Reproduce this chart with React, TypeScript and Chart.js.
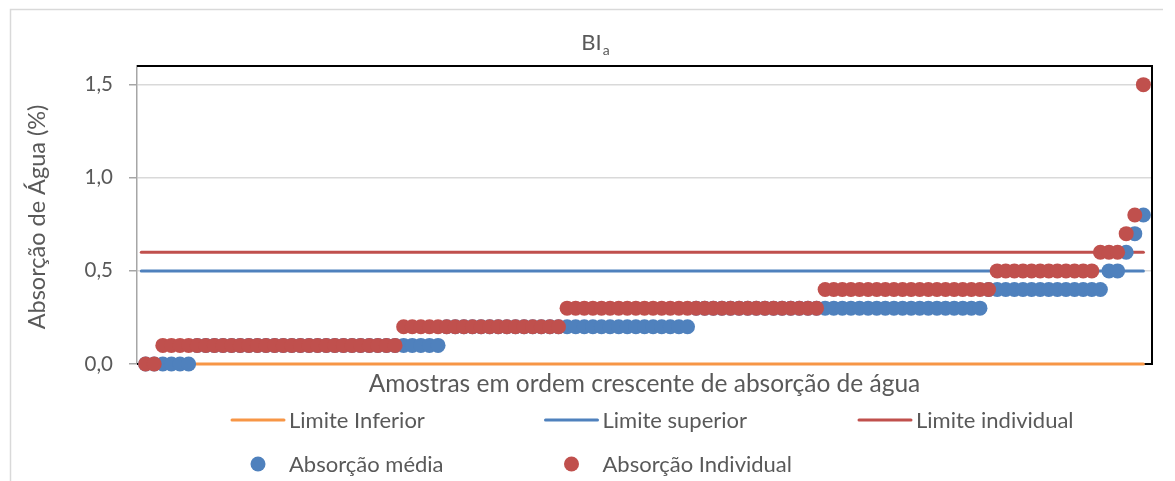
import React, { useEffect, useRef } from "react";
import { Chart, registerables } from "chart.js";

Chart.register(...registerables);

// ---- data ----
const absorcaoMedia = [
  0.0, 0.0, 0.0, 0.0, 0.0, 0.0,
  0.1, 0.1, 0.1, 0.1, 0.1, 0.1, 0.1, 0.1, 0.1, 0.1,
  0.1, 0.1, 0.1, 0.1, 0.1, 0.1, 0.1, 0.1, 0.1, 0.1,
  0.1, 0.1, 0.1, 0.1, 0.1, 0.1, 0.1, 0.1, 0.1,
  0.2, 0.2, 0.2, 0.2, 0.2, 0.2, 0.2, 0.2, 0.2, 0.2,
  0.2, 0.2, 0.2, 0.2, 0.2, 0.2, 0.2, 0.2, 0.2, 0.2,
  0.2, 0.2, 0.2, 0.2, 0.2, 0.2, 0.2, 0.2, 0.2,
  0.3, 0.3, 0.3, 0.3, 0.3, 0.3, 0.3, 0.3, 0.3, 0.3,
  0.3, 0.3, 0.3, 0.3, 0.3, 0.3, 0.3, 0.3, 0.3, 0.3,
  0.3, 0.3, 0.3, 0.3, 0.3, 0.3, 0.3, 0.3, 0.3, 0.3,
  0.3, 0.3, 0.3, 0.3,
  0.4, 0.4, 0.4, 0.4, 0.4, 0.4, 0.4, 0.4, 0.4, 0.4,
  0.4, 0.4, 0.4, 0.4,
  0.5, 0.5,
  0.6,
  0.7,
  0.8,
];

const absorcaoIndividual = [
  0.0, 0.0,
  0.1, 0.1, 0.1, 0.1, 0.1, 0.1, 0.1, 0.1, 0.1, 0.1, 0.1, 0.1, 0.1, 0.1,
  0.1, 0.1, 0.1, 0.1, 0.1, 0.1, 0.1, 0.1, 0.1, 0.1, 0.1, 0.1, 0.1, 0.1,
  0.2, 0.2, 0.2, 0.2, 0.2, 0.2, 0.2, 0.2, 0.2, 0.2,
  0.2, 0.2, 0.2, 0.2, 0.2, 0.2, 0.2, 0.2, 0.2,
  0.3, 0.3, 0.3, 0.3, 0.3, 0.3, 0.3, 0.3, 0.3, 0.3,
  0.3, 0.3, 0.3, 0.3, 0.3, 0.3, 0.3, 0.3, 0.3, 0.3,
  0.3, 0.3, 0.3, 0.3, 0.3, 0.3, 0.3, 0.3, 0.3, 0.3,
  0.4, 0.4, 0.4, 0.4, 0.4, 0.4, 0.4, 0.4, 0.4, 0.4,
  0.4, 0.4, 0.4, 0.4, 0.4, 0.4, 0.4, 0.4, 0.4, 0.4,
  0.5, 0.5, 0.5, 0.5, 0.5, 0.5, 0.5, 0.5, 0.5, 0.5, 0.5, 0.5,
  0.6, 0.6, 0.6,
  0.7,
  0.8,
  1.5,
];

const limiteInferior = 0.0;
const limiteSuperior = 0.5;
const limiteIndividual = 0.6;

const yTickValues = [0.0, 0.5, 1.0, 1.5];
const yMax = 1.6;

const seriesNames = [
  "Limite Inferior",
  "Limite superior",
  "Limite individual",
  "Absorção média",
  "Absorção Individual",
];

const titleMain = "BI";
const titleSub = "a";
const yAxisTitle = "Absorção de Água (%)";
const xAxisTitle = "Amostras em ordem crescente de absorção de água";

// ---- styles ----
const FONT = "Lato, 'Liberation Sans', sans-serif";
const TEXT = "#595959";
const ORANGE = "#F79646";
const BLUE = "#4F81BD";
const RED = "#C0504D";

const W = 1175;
const H = 481;

const nSamples = absorcaoIndividual.length;
const sampleNumbers = absorcaoIndividual.map((_, i) => i + 1);

const legendCols = [232, 545.5, 859];
const legendRows = [420, 464];

const decorPlugin = {
  id: "decor",
  beforeDraw(chart: any) {
    const ctx = chart.ctx;
    ctx.save();
    ctx.fillStyle = "#ffffff";
    ctx.fillRect(0, 0, chart.width, chart.height);
    ctx.strokeStyle = "#D9D9D9";
    ctx.lineWidth = 1.5;
    ctx.beginPath();
    ctx.moveTo(10.5, H);
    ctx.lineTo(10.5, 9.5);
    ctx.lineTo(1163, 9.5);
    ctx.stroke();
    ctx.restore();
  },
  beforeDatasetsDraw(chart: any) {
    const { ctx, chartArea } = chart;
    ctx.save();
    ctx.strokeStyle = "#000000";
    ctx.lineWidth = 2;
    ctx.beginPath();
    ctx.moveTo(chartArea.left, chartArea.top);
    ctx.lineTo(chartArea.right, chartArea.top);
    ctx.lineTo(chartArea.right, chartArea.bottom);
    ctx.lineTo(chartArea.left, chartArea.bottom);
    ctx.stroke();
    ctx.restore();
  },
  afterDraw(chart: any) {
    const { ctx, chartArea } = chart;
    ctx.save();
    ctx.fillStyle = TEXT;
    // title with subscript
    ctx.font = `22px ${FONT}`;
    const w1 = ctx.measureText(titleMain).width;
    ctx.font = `14px ${FONT}`;
    const w2 = ctx.measureText(titleSub).width;
    const tx = 595 - (w1 + w2) / 2;
    ctx.textBaseline = "alphabetic";
    ctx.textAlign = "left";
    ctx.font = `22px ${FONT}`;
    ctx.fillText(titleMain, tx, 50);
    ctx.font = `14px ${FONT}`;
    ctx.fillText(titleSub, tx + w1 + 1, 55);

    // axis titles
    ctx.font = `24.5px ${FONT}`;
    ctx.textAlign = "center";
    ctx.textBaseline = "middle";
    ctx.fillText(xAxisTitle, (chartArea.left + chartArea.right) / 2, 384);
    ctx.font = `23.5px ${FONT}`;
    ctx.save();
    ctx.translate(37, 217);
    ctx.rotate(-Math.PI / 2);
    ctx.fillText(yAxisTitle, 0, 0);
    ctx.restore();

    // legend
    ctx.font = `22px ${FONT}`;
    ctx.textAlign = "left";
    ctx.textBaseline = "middle";
    chart.data.datasets.forEach((ds: any, i: number) => {
      const isPoint = ds.showLine === false;
      const row = isPoint ? 1 : 0;
      const col = isPoint ? i - 3 : i;
      const x0 = legendCols[col];
      const y0 = legendRows[row];
      if (isPoint) {
        ctx.fillStyle = ds.backgroundColor;
        ctx.beginPath();
        ctx.arc(x0 + 26, y0, 7.5, 0, Math.PI * 2);
        ctx.fill();
      } else {
        ctx.strokeStyle = ds.borderColor;
        ctx.lineWidth = 3;
        ctx.lineCap = "round";
        ctx.beginPath();
        ctx.moveTo(x0, y0);
        ctx.lineTo(x0 + 52, y0);
        ctx.stroke();
      }
      ctx.fillStyle = TEXT;
      ctx.fillText(ds.label, x0 + 57, y0 + 1);
    });
    ctx.restore();
  },
};

function limitLine(label: string, value: number, color: string) {
  return {
    type: "line" as const,
    label,
    data: [
      { x: 0.5, y: value },
      { x: nSamples, y: value },
    ],
    borderColor: color,
    backgroundColor: color,
    borderWidth: 3,
    borderCapStyle: "round" as const,
    pointRadius: 0,
    showLine: true,
    clip: false as const,
    order: 3,
  };
}

export default function App() {
  const canvasRef = useRef<HTMLCanvasElement | null>(null);

  useEffect(() => {
    document.body.style.margin = "0";
    const canvas = canvasRef.current;
    if (!canvas) return;
    const chart = new Chart(canvas, {
      type: "scatter",
      data: {
        datasets: [
          limitLine(seriesNames[0], limiteInferior, ORANGE),
          limitLine(seriesNames[1], limiteSuperior, BLUE),
          limitLine(seriesNames[2], limiteIndividual, RED),
          {
            label: seriesNames[3],
            data: sampleNumbers.map((x, i) => ({ x, y: absorcaoMedia[i] })),
            backgroundColor: BLUE,
            borderColor: BLUE,
            borderWidth: 0,
            pointRadius: 7.5,
            pointHoverRadius: 7.5,
            showLine: false,
            clip: false,
            order: 1,
          },
          {
            label: seriesNames[4],
            data: sampleNumbers.map((x, i) => ({ x, y: absorcaoIndividual[i] })),
            backgroundColor: RED,
            borderColor: RED,
            borderWidth: 0,
            pointRadius: 7.5,
            pointHoverRadius: 7.5,
            showLine: false,
            clip: false,
            order: 0,
          },
        ],
      },
      options: {
        animation: false,
        responsive: false,
        devicePixelRatio: 1,
        layout: { padding: { left: 0, top: 66, right: 23, bottom: 117 } },
        plugins: {
          legend: { display: false },
          title: { display: false },
          tooltip: { enabled: false },
        },
        scales: {
          x: {
            type: "linear",
            min: 0,
            max: nSamples + 1,
            display: false,
          },
          y: {
            type: "linear",
            min: 0,
            max: yMax,
            afterBuildTicks: (scale: any) => {
              scale.ticks = yTickValues.map((v) => ({ value: v }));
            },
            afterFit: (scale: any) => {
              scale.width = 137;
            },
            grid: {
              color: "#D9D9D9",
              lineWidth: 1.5,
              drawTicks: true,
              tickLength: 8,
              tickColor: "#A6A6A6",
            },
            border: { color: "#A6A6A6", width: 1.5 },
            ticks: {
              color: TEXT,
              font: { family: FONT, size: 20.5 },
              padding: 16,
              callback: (v: any) => Number(v).toFixed(1).replace(".", ","),
            },
          },
        },
      },
      plugins: [decorPlugin],
    });
    return () => chart.destroy();
  }, []);

  return (
    <div style={{ position: "absolute", left: 0, top: 0, width: W, height: H }}>
      <canvas ref={canvasRef} width={W} height={H} style={{ display: "block" }} />
    </div>
  );
}
